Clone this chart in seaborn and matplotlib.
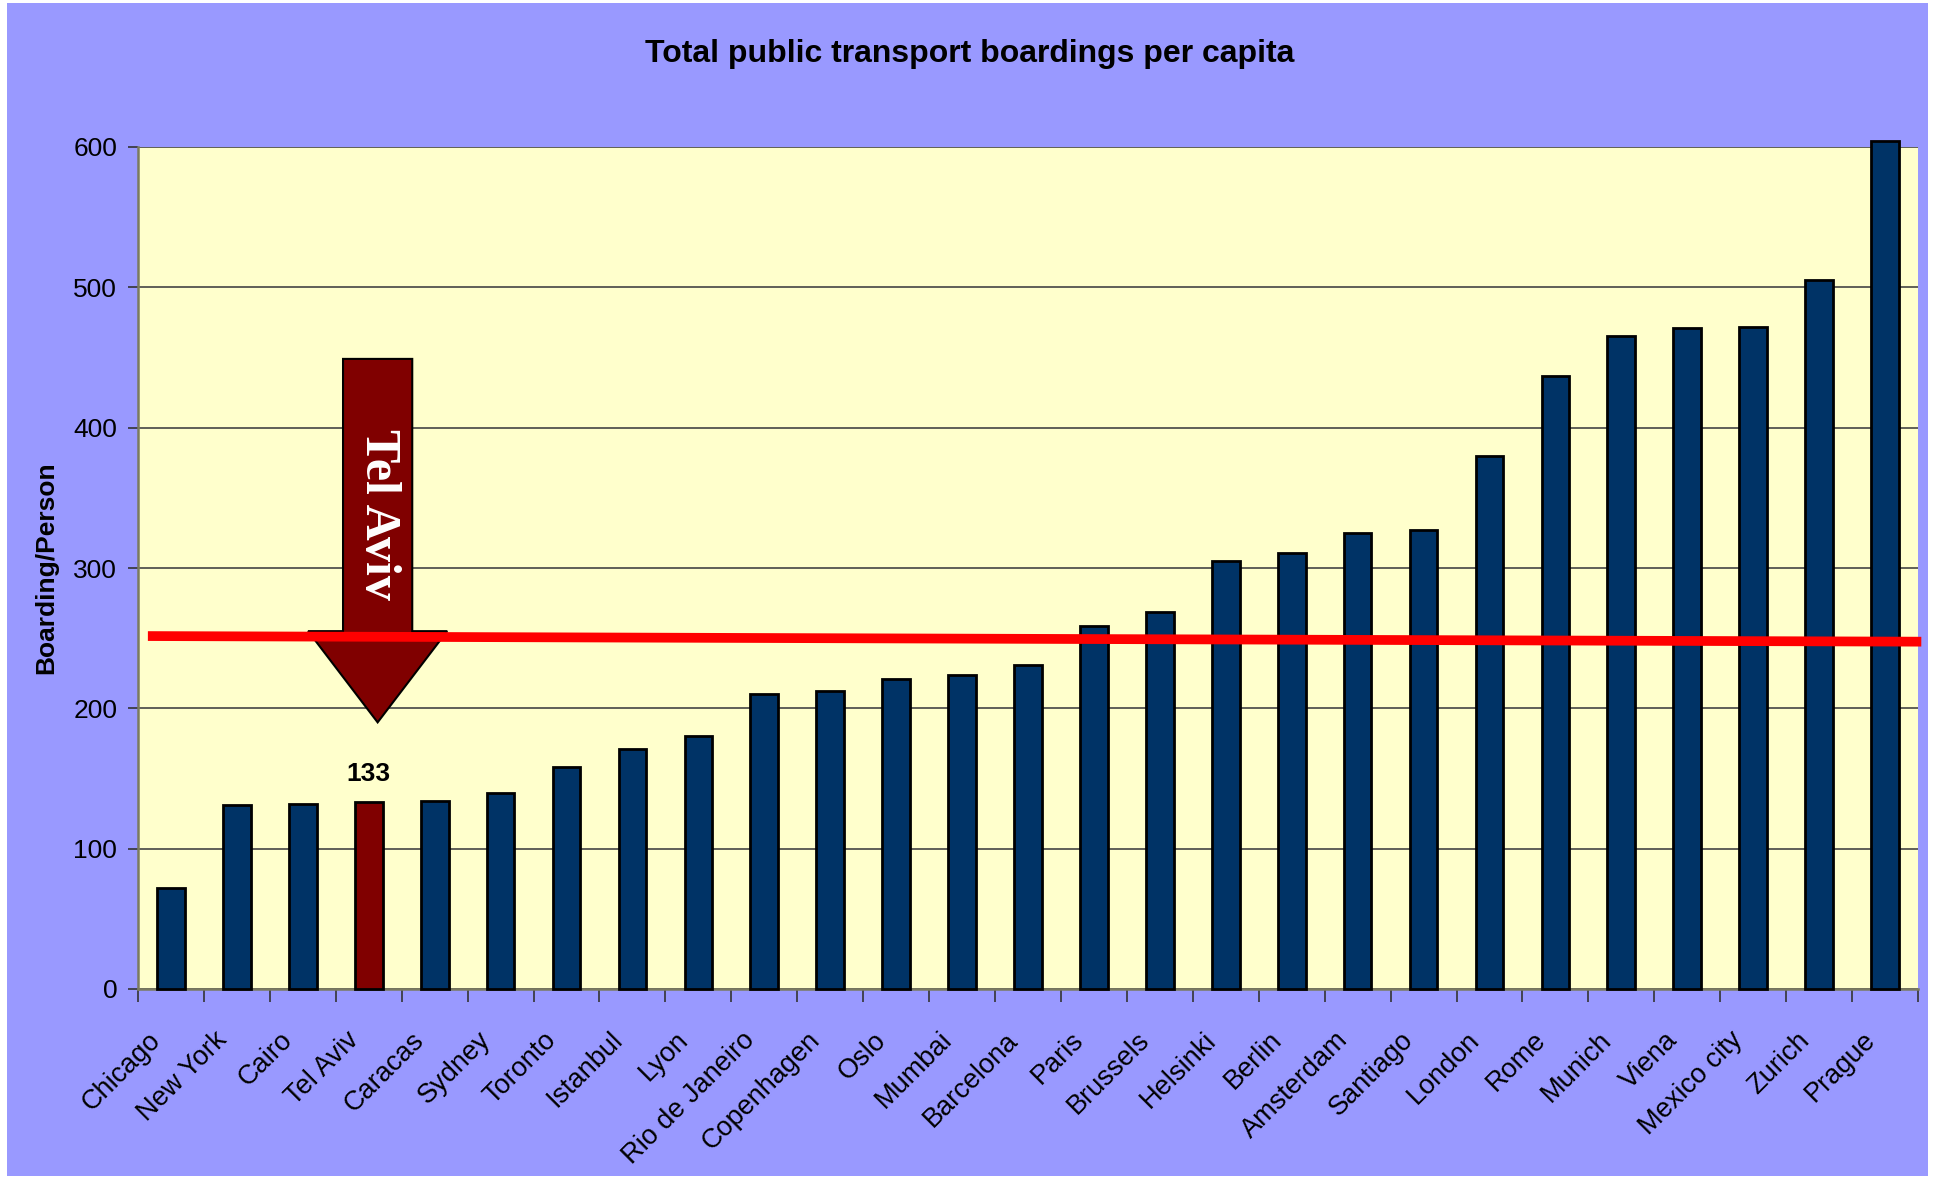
import matplotlib
matplotlib.use("Agg")
import matplotlib.pyplot as plt
import seaborn as sns
import pandas as pd
from matplotlib.patches import Polygon, Rectangle
from matplotlib.transforms import ScaledTranslation

# data
cities = ["Chicago", "New York", "Cairo", "Tel Aviv", "Caracas", "Sydney", "Toronto",
          "Istanbul", "Lyon", "Rio de Janeiro", "Copenhagen", "Oslo", "Mumbai",
          "Barcelona", "Paris", "Brussels", "Helsinki", "Berlin", "Amsterdam",
          "Santiago", "London", "Rome", "Munich", "Viena", "Mexico city", "Zurich",
          "Prague"]
boardings = [72, 131, 132, 133, 134, 140, 158, 171, 180, 210, 212, 221, 224,
             231, 259, 269, 305, 311, 325, 327, 380, 437, 465, 471, 472, 505, 604]
highlight = "Tel Aviv"
yticks = [0, 100, 200, 300, 400, 500, 600]

# red average line (left value, right value)
avg_line = [251.5, 247.5]

# arrow annotation (values on y axis)
arrow_top, arrow_base, arrow_tip = 449, 255, 190

BAR = "#003366"
HI = "#800000"
PURPLE = "#9999FF"
PLOT_BG = "#FFFFCC"

plt.rcParams["font.family"] = ["Liberation Sans", "DejaVu Sans"]

df = pd.DataFrame({"city": cities, "boardings": boardings})
colors = [HI if c == highlight else BAR for c in cities]

W, H = 1937, 1179
fig = plt.figure(figsize=(W / 100, H / 100), dpi=100)
fig.patches.append(Rectangle((7 / W, 3 / H), 1921 / W, 1173 / H, transform=fig.transFigure,
                             facecolor=PURPLE, edgecolor="none", zorder=-10))
ax = fig.add_axes([138 / W, 1 - 989 / H, 1780 / W, 842 / H])
ax.set_facecolor(PLOT_BG)

sns.barplot(data=df, x="city", y="boardings", hue="city", palette=colors, legend=False,
            saturation=1, width=0.42, edgecolor="black", linewidth=2, ax=ax, zorder=3)
for p in ax.patches:
    p.set_clip_on(False)

ax.set_xlim(-0.5, len(cities) - 0.5)
ax.set_ylim(0, 600)
ax.set_yticks(yticks)
ax.yaxis.grid(True, color="#444444", linewidth=1.2)
ax.xaxis.grid(False)
ax.set_axisbelow(True)

for s in ["top", "right"]:
    ax.spines[s].set_visible(False)
for s in ["left", "bottom"]:
    ax.spines[s].set_color("#7a7a60")
    ax.spines[s].set_linewidth(1.8)

ax.set_xticks(range(len(cities)))
ax.set_xticks([i - 0.5 for i in range(len(cities) + 1)], minor=True)
ax.tick_params(axis="x", which="major", length=0, pad=34)
ax.tick_params(axis="x", which="minor", length=9, width=1.2, color="#333333", direction="out")
ax.tick_params(axis="y", length=7, width=1.2, color="#333333", labelsize=19, pad=8)
ax.set_xticklabels(cities, rotation=45, ha="right", va="center",
                   rotation_mode="anchor", fontsize=19.5)
shift = ScaledTranslation(-14 / 100, 0, fig.dpi_scale_trans)
for lab in ax.get_xticklabels():
    lab.set_transform(lab.get_transform() + shift)

ax.set_xlabel("")
ax.set_ylabel("Boarding/Person", fontsize=19, fontweight="bold")
ax.yaxis.set_label_coords(-0.045, 0.5)

fig.text(970 / W, 1 - 54 / H, "Total public transport boardings per capita",
         ha="center", va="center", fontsize=23, fontweight="bold")

# value label above highlighted bar
idx = cities.index(highlight)
ax.text(idx, boardings[idx] + 20, f"{boardings[idx]}", ha="center", va="center",
        fontsize=19, fontweight="bold", zorder=5)

# block arrow pointing at Tel Aviv
cx = idx + 0.135
shaft, head = 0.525, 1.055
arrow = Polygon([(cx - shaft, arrow_top), (cx + shaft, arrow_top), (cx + shaft, arrow_base),
                 (cx + head, arrow_base), (cx, arrow_tip), (cx - head, arrow_base),
                 (cx - shaft, arrow_base)], closed=True, facecolor=HI, edgecolor="black",
                linewidth=1.5, zorder=4)
ax.add_patch(arrow)
ax.text(cx, 338, "Tel Aviv", rotation=-90, ha="center", va="center", color="white",
        fontsize=36, fontweight="bold", family=["Liberation Serif", "DejaVu Serif"], zorder=5)

ax.plot([-0.35, len(cities) - 0.45], avg_line, color="#FF0000", linewidth=7,
        solid_capstyle="butt", zorder=6, clip_on=False)

fig.savefig("out.png", dpi=100, facecolor="white")
